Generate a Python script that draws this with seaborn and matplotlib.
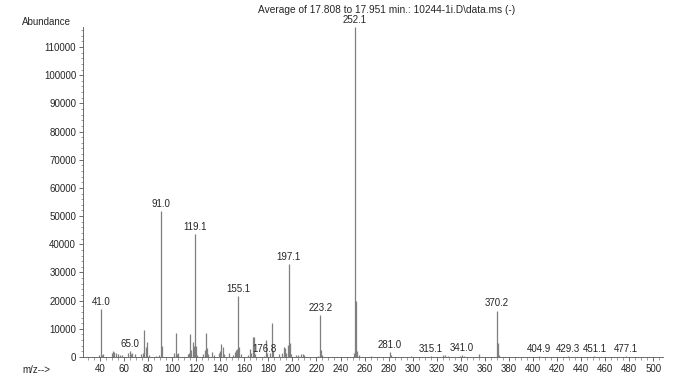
import matplotlib
matplotlib.use("Agg")
import pandas as pd
import seaborn as sns
import matplotlib.pyplot as plt
from matplotlib.ticker import MultipleLocator

# mass spectrum, m/z and abundance
mz = [39, 41.0, 42, 43, 50, 51, 52, 53, 55, 57, 58, 63, 65.0, 66, 67, 69, 74, 76,
      77, 78, 79, 81, 87, 89, 91.0, 92, 102, 103, 104, 105, 113, 114, 115, 116,
      117, 118, 119.1, 120, 121, 126, 127, 128, 129, 130, 133, 135, 139, 140,
      141, 142, 143, 147, 151, 152, 153, 154, 155.1, 156, 157, 163, 165, 166,
      167, 168, 169, 176.8, 178, 179, 181, 183, 184, 189, 191, 193, 194, 195,
      196, 197.1, 198, 199, 203, 205, 207, 209, 210, 221, 223.2, 224, 225, 251,
      252.1, 253, 254, 255, 265, 281.0, 282, 299, 315.1, 325, 327, 329, 339,
      341.0, 343, 355, 370.2, 371, 372, 404.9, 429.3, 451.1, 477.1]
abundance = [800, 17000, 600, 1000, 1500, 2200, 1800, 1500, 1200, 600, 800, 1500,
             2000, 1000, 1500, 1000, 1200, 1500, 9500, 3500, 5500, 600, 400, 800,
             51800, 3800, 1500, 8500, 1200, 1500, 1000, 1500, 8000, 2500, 5500,
             4000, 43500, 4000, 800, 1000, 2500, 8500, 3200, 1000, 1800, 600, 1500,
             2200, 4500, 3500, 1000, 1500, 800, 1800, 2500, 3000, 21500, 3500, 1200,
             800, 3000, 1500, 7000, 7000, 1200, 300, 6200, 1500, 1500, 12000, 2000,
             1000, 1500, 3500, 3200, 1500, 4200, 33000, 5000, 1000, 600, 800, 1200,
             1000, 700, 500, 15000, 2500, 600, 1500, 117000, 20000, 2000, 600, 300,
             1800, 600, 300, 400, 600, 800, 500, 400, 600, 400, 1000, 16500, 5000,
             800, 300, 300, 200, 200]
labeled = [41.0, 65.0, 91.0, 119.1, 155.1, 176.8, 197.1, 223.2, 252.1, 281.0,
           315.1, 341.0, 370.2, 404.9, 429.3, 451.1, 477.1]
x_ticks = list(range(40, 501, 20))
y_ticks = list(range(0, 110001, 10000))

df = pd.DataFrame({"mz": mz, "abundance": abundance})

sns.set_style("ticks")
plt.rcParams["font.family"] = ["Liberation Sans", "DejaVu Sans"]
plt.rcParams["font.size"] = 7

fig = plt.figure(figsize=(6.92, 3.84), dpi=100)
ax = fig.add_axes([0.12, 0.0703, 0.838, 0.8586])

ax.vlines(df["mz"], 0, df["abundance"], color="#7f7f7f", linewidth=0.9)

for _, r in df[df["mz"].isin(labeled)].iterrows():
    ax.annotate(f"{r['mz']:.1f}", (r["mz"], r["abundance"]),
                xytext=(0, 1.5), textcoords="offset points",
                ha="center", va="bottom", fontsize=7)

ax.set_xlim(26, 508)
ax.set_ylim(0, 117000)
ax.set_xticks(x_ticks)
ax.set_yticks(y_ticks)
ax.xaxis.set_minor_locator(MultipleLocator(5))
ax.yaxis.set_minor_locator(MultipleLocator(2000))
ax.tick_params(which="major", length=3, width=0.6, pad=2, labelsize=7, color="#555555")
ax.tick_params(which="minor", length=1.8, width=0.5, color="#777777")
sns.despine(ax=ax)
for s in ["left", "bottom"]:
    ax.spines[s].set_linewidth(0.6)
    ax.spines[s].set_color("#555555")

fig.text(0.032, 0.943, "Abundance", fontsize=7, va="center")
fig.text(0.032, 0.037, "m/z-->", fontsize=7, va="center")
fig.text(0.558, 0.974, r"Average of 17.808 to 17.951 min.: 10244-1i.D\data.ms (-)",
         fontsize=7.3, ha="center", va="center")

fig.savefig("out.png", dpi=100)
